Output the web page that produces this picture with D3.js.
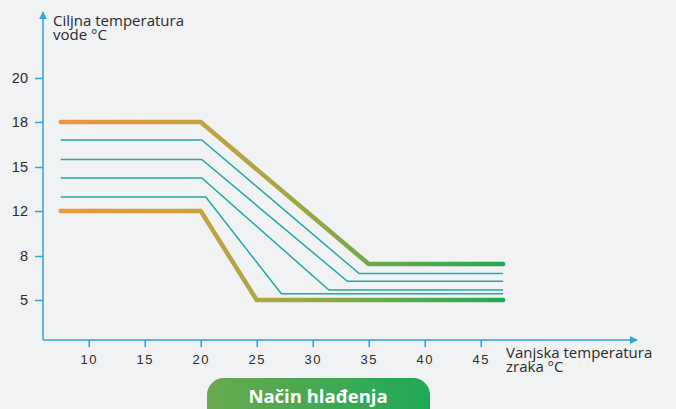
<!DOCTYPE html>
<html>
<head>
<meta charset="utf-8">
<script src="https://cdn.jsdelivr.net/npm/d3@7"></script>
<style>
  html, body { margin: 0; padding: 0; background: #f1f2f4; }
  svg { display: block; font-family: "Open Sans", "Noto Sans", sans-serif; }
</style>
</head>
<body>
<svg id="chart" width="676" height="409"></svg>
<script>
// data (outside air temperature -> target water temperature)
const xTicks = [10, 15, 20, 25, 30, 35, 40, 45]
const yTicks = [5, 8, 12, 15, 18, 20]

// the two limit curves (thick, gradient)
const upperX = [7.5, 20, 35, 47]
const upperY = [18, 18, 7.45, 7.45]
const lowerX = [7.5, 20, 25, 47]
const lowerY = [12, 12, 5, 5]

// the intermediate curves (thin)
const midStart = [16.8, 15.5, 14.25, 12.95]
const midBendX = [20.1, 20.1, 20.1, 20.45]
const midEndX = [34.15, 33.1, 31.45, 27.2]
const midEnd = [6.8, 6.27, 5.68, 5.43]
const midFirstX = 7.5
const midLastX = 47

const axisColor = '#2ea3dd'
const textColor = '#2b2b2b'
const thinColor = '#22a8a6'

const svg = d3.select('#chart')

// scales - y axis ticks are evenly spaced even though the values are not
const x = d3.scaleLinear().domain([10, 45]).range([88.7, 480.7])
const y = d3.scaleLinear().domain(yTicks).range([300, 256, 211, 167, 122, 78])

const axisX0 = 43
const axisY0 = 340

// gradient for the limit curves
const defs = svg.append('defs')
const grad = defs.append('linearGradient')
  .attr('id', 'limitGrad')
  .attr('gradientUnits', 'userSpaceOnUse')
  .attr('x1', x(7.5)).attr('x2', x(47)).attr('y1', 0).attr('y2', 0)
grad.append('stop').attr('offset', '0%').attr('stop-color', '#f0963a')
grad.append('stop').attr('offset', '33%').attr('stop-color', '#c4a241')
grad.append('stop').attr('offset', '55%').attr('stop-color', '#9aa844')
grad.append('stop').attr('offset', '100%').attr('stop-color', '#1faa52')

const btnGrad = defs.append('linearGradient').attr('id', 'btnGrad')
btnGrad.append('stop').attr('offset', '0%').attr('stop-color', '#6aa84f')
btnGrad.append('stop').attr('offset', '100%').attr('stop-color', '#1fa955')

defs.append('marker')
  .attr('id', 'arrow')
  .attr('viewBox', '0 0 10 10')
  .attr('refX', 9).attr('refY', 5)
  .attr('markerWidth', 8).attr('markerHeight', 8)
  .attr('markerUnits', 'userSpaceOnUse')
  .attr('orient', 'auto')
  .append('path')
  .attr('d', 'M0,0 L10,5 L0,10 Z')
  .attr('fill', axisColor)

// axes lines with arrows
svg.append('line')
  .attr('x1', axisX0).attr('y1', axisY0)
  .attr('x2', axisX0).attr('y2', 12)
  .attr('stroke', axisColor).attr('stroke-width', 1.5)
  .attr('marker-end', 'url(#arrow)')
svg.append('line')
  .attr('x1', axisX0).attr('y1', axisY0)
  .attr('x2', 637).attr('y2', axisY0)
  .attr('stroke', axisColor).attr('stroke-width', 1.5)
  .attr('marker-end', 'url(#arrow)')

// y axis ticks
const yAxis = svg.append('g')
  .attr('transform', `translate(${axisX0},0)`)
  .call(d3.axisLeft(y).tickValues(yTicks).tickSize(8).tickPadding(7).tickFormat(d3.format('d')))
yAxis.select('.domain').remove()
yAxis.selectAll('.tick line').attr('stroke', axisColor).attr('stroke-width', 1.5)
yAxis.selectAll('.tick text')
  .attr('fill', textColor)
  .style('font-size', '14.5px')

// x axis ticks
const xAxis = svg.append('g')
  .attr('transform', `translate(0,${axisY0})`)
  .call(d3.axisBottom(x).tickValues(xTicks).tickSize(7).tickPadding(8).tickFormat(d3.format('d')))
xAxis.select('.domain').remove()
xAxis.selectAll('.tick line').attr('stroke', axisColor).attr('stroke-width', 1.5)
xAxis.selectAll('.tick text')
  .attr('fill', textColor)
  .style('font-size', '13px')
  .style('letter-spacing', '1.5px')

// axis titles
const yTitle = svg.append('text')
  .attr('x', 53).attr('y', 26)
  .attr('fill', textColor)
  .style('font-size', '15px')
yTitle.append('tspan').attr('x', 53).text('Ciljna temperatura')
yTitle.append('tspan').attr('x', 53).attr('dy', 14).text('vode °C')

const xTitle = svg.append('text')
  .attr('x', 506).attr('y', 358)
  .attr('fill', textColor)
  .style('font-size', '15px')
xTitle.append('tspan').attr('x', 506).text('Vanjska temperatura')
xTitle.append('tspan').attr('x', 506).attr('dy', 14).text('zraka °C')

// curves
const line = d3.line().x(d => x(d[0])).y(d => y(d[1]))

const midCurves = midStart.map((s, i) => [
  [midFirstX, s], [midBendX[i], s], [midEndX[i], midEnd[i]], [midLastX, midEnd[i]]
])

svg.selectAll('path.mid')
  .data(midCurves)
  .enter()
  .append('path')
  .attr('class', 'mid')
  .attr('d', line)
  .attr('fill', 'none')
  .attr('stroke', thinColor)
  .attr('stroke-width', 1.5)

const limits = [d3.zip(upperX, upperY), d3.zip(lowerX, lowerY)]
svg.selectAll('path.limit')
  .data(limits)
  .enter()
  .append('path')
  .attr('class', 'limit')
  .attr('d', line)
  .attr('fill', 'none')
  .attr('stroke', 'url(#limitGrad)')
  .attr('stroke-width', 4.5)
  .attr('stroke-linecap', 'round')

// mode button
svg.append('rect')
  .attr('x', 207).attr('y', 378)
  .attr('width', 223).attr('height', 50)
  .attr('rx', 17)
  .attr('fill', 'url(#btnGrad)')
svg.append('text')
  .attr('x', 318).attr('y', 403)
  .attr('text-anchor', 'middle')
  .attr('fill', '#ffffff')
  .style('font-size', '18.5px')
  .style('font-weight', '700')
  .text('Način hlađenja')
</script>
</body>
</html>
